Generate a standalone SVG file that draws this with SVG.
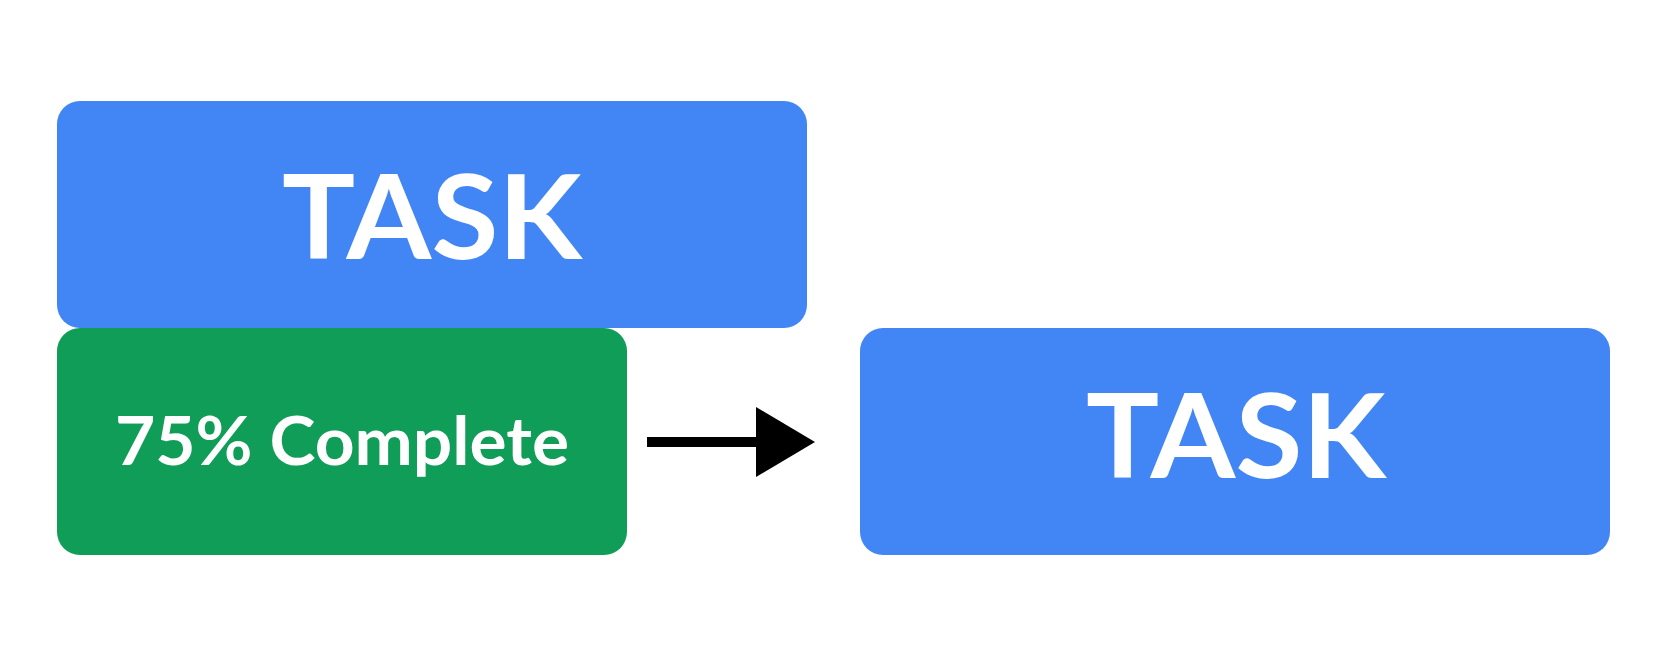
<svg xmlns="http://www.w3.org/2000/svg" width="1667" height="655" viewBox="0 0 1667 655">
  <defs>
    <style>
      .task { fill: #4285F4; }
      .done { fill: #0F9D58; }
      .lbl { fill: #FFFFFF; font-family: Lato, "Liberation Sans", Arial, sans-serif; font-weight: 700; text-anchor: middle; }
      .big { font-size: 117px; }
      .mid { font-size: 67px; }
    </style>
  </defs>
  <rect width="1667" height="655" fill="#FFFFFF"/>
  <g id="task-top">
    <rect class="task" x="57" y="101" width="750" height="227" rx="23" ry="23"/>
    <text class="lbl big" x="432" y="259" textLength="300" lengthAdjust="spacingAndGlyphs">TASK</text>
  </g>
  <g id="progress">
    <rect class="done" x="57" y="328" width="570" height="227" rx="23" ry="23"/>
    <text class="lbl mid" x="342" y="465" textLength="454" lengthAdjust="spacingAndGlyphs">75% Complete</text>
  </g>
  <g id="task-right">
    <rect class="task" x="860" y="328" width="750" height="227" rx="23" ry="23"/>
    <text class="lbl big" x="1236" y="478" textLength="300" lengthAdjust="spacingAndGlyphs">TASK</text>
  </g>
  <g id="connectors">
    <line x1="647" y1="442" x2="757" y2="442" stroke="#000000" stroke-width="10"/>
    <polygon points="756,407 815,442 756,477" fill="#000000"/>
  </g>
</svg>
